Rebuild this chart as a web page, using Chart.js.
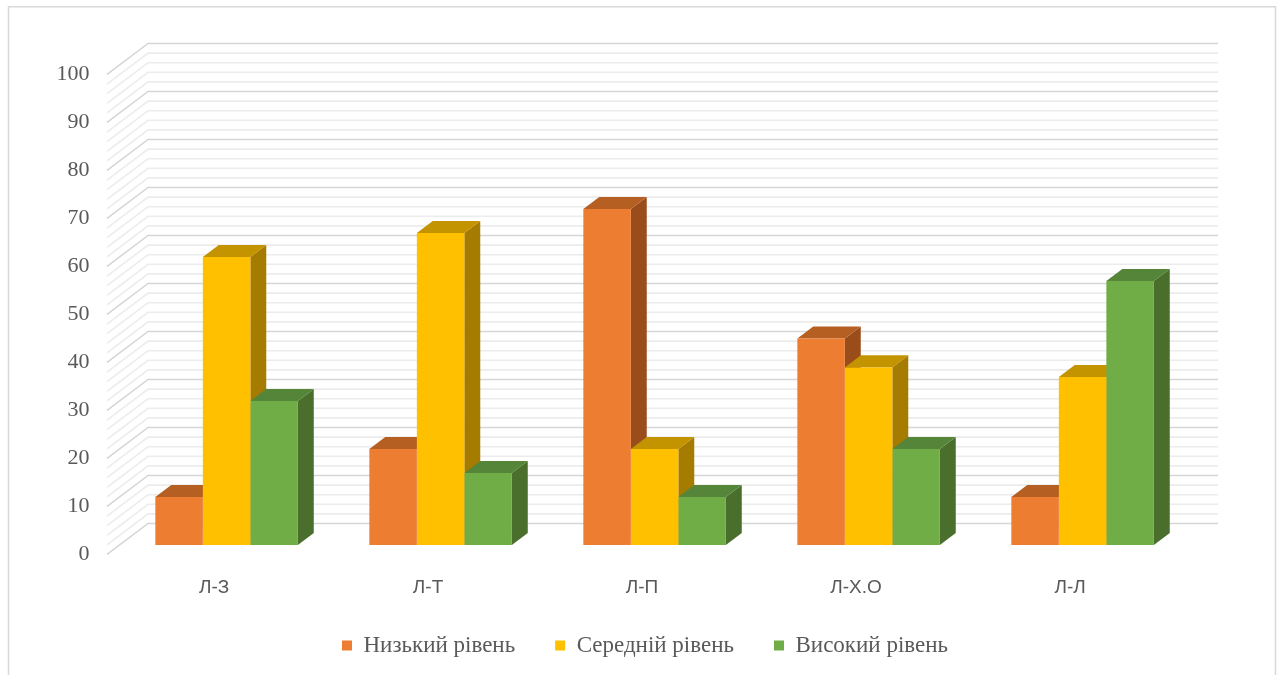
<!DOCTYPE html>
<html lang="uk">
<head>
<meta charset="utf-8">
<title>Рівні за методиками</title>
<script src="https://cdn.jsdelivr.net/npm/chart.js@4.4.1/dist/chart.umd.min.js"></script>
<style>
  html, body { margin: 0; padding: 0; background: #ffffff; }
  #wrap { width: 1280px; height: 675px; }
</style>
</head>
<body>
<div id="wrap"><canvas id="chart" width="1280" height="675"></canvas></div>
<script>
// Categories and series values
const categories = ['Л-З', 'Л-Т', 'Л-П', 'Л-Х.О', 'Л-Л'];
const lowLevel  = [10, 20, 70, 43, 10];
const midLevel  = [60, 65, 20, 37, 35];
const highLevel = [30, 15, 10, 20, 55];
const seriesNames = ['Низький рівень', 'Середній рівень', 'Високий рівень'];
const yTicks = { min: 0, max: 100, step: 10 };

// Face colours: front, top, side
const palette = [
  { front: '#ED7D31', top: '#B65F22', side: '#9A4D1A' },
  { front: '#FFC000', top: '#C49300', side: '#A57B00' },
  { front: '#70AD47', top: '#558538', side: '#4A6E2C' }
];

// Oblique projection of the plot box: full wall depth and where bars sit in it
const WALL_DX = 41, WALL_DY = 31;
const BAR_FRONT = 0.306;   // fraction of depth in front of the bars
const BAR_DEPTH = 0.388;   // bar depth as a fraction of the wall depth

const serifFont = '"Liberation Serif", "Times New Roman", serif';
const sansFont = '"Liberation Sans", Arial, sans-serif';

const frame3d = {
  id: 'frame3d',
  beforeDraw(chart) {
    const ctx = chart.ctx;
    ctx.save();
    ctx.fillStyle = '#ffffff';
    ctx.fillRect(0, 0, chart.width, chart.height);
    ctx.strokeStyle = '#d9d9d9';
    ctx.lineWidth = 1.5;
    ctx.strokeRect(8.5, 6.75, 1267, 720);
    ctx.restore();
  },
  beforeDatasetsDraw(chart) {
    const ctx = chart.ctx;
    const area = chart.chartArea;
    const y = chart.scales.y;
    const fx = -WALL_DX * BAR_FRONT, fy = WALL_DY * BAR_FRONT;               // bar plane -> front plane
    const bx = WALL_DX * (1 - BAR_FRONT), by = -WALL_DY * (1 - BAR_FRONT);   // bar plane -> back wall
    ctx.save();
    ctx.lineCap = 'butt';
    // minor lines first, major lines on top
    for (const pass of ['minor', 'major']) {
      for (let v = yTicks.min; v <= yTicks.max + 0.001; v += 2) {
        const major = Math.abs(v % 10) < 0.001;
        if ((pass === 'major') !== major) continue;
        const py = y.getPixelForValue(v);
        ctx.strokeStyle = major ? '#d6d6d6' : '#ececec';
        ctx.lineWidth = 1.6;
        ctx.beginPath();
        ctx.moveTo(area.left + fx, py + fy);
        ctx.lineTo(area.left + bx, py + by);
        ctx.lineTo(area.right + bx, py + by);
        ctx.stroke();
      }
    }
    // side and top faces of every bar; front faces are drawn by Chart.js afterwards
    const ddx = WALL_DX * BAR_DEPTH, ddy = WALL_DY * BAR_DEPTH;
    const bars = [];
    chart.getSortedVisibleDatasetMetas().forEach((meta) => {
      meta.data.forEach((el) => {
        const p = el.getProps(['x', 'y', 'base', 'width'], true);
        bars.push({ p, col: palette[meta.index] });
      });
    });
    bars.forEach(({ p, col }) => {
      const r = p.x + p.width / 2;
      ctx.fillStyle = col.side;
      ctx.beginPath();
      ctx.moveTo(r, p.y);
      ctx.lineTo(r + ddx, p.y - ddy);
      ctx.lineTo(r + ddx, p.base - ddy);
      ctx.lineTo(r, p.base);
      ctx.closePath();
      ctx.fill();
    });
    bars.forEach(({ p, col }) => {
      const l = p.x - p.width / 2, r = p.x + p.width / 2;
      ctx.fillStyle = col.top;
      ctx.beginPath();
      ctx.moveTo(l, p.y);
      ctx.lineTo(r, p.y);
      ctx.lineTo(r + ddx, p.y - ddy);
      ctx.lineTo(l + ddx, p.y - ddy);
      ctx.closePath();
      ctx.fill();
    });
    ctx.restore();
  }
};

const seriesValues = [lowLevel, midLevel, highLevel];

new Chart(document.getElementById('chart'), {
  type: 'bar',
  data: {
    labels: categories,
    datasets: seriesValues.map((vals, i) => ({
      label: seriesNames[i],
      data: vals,
      backgroundColor: palette[i].front,
      borderWidth: 0,
      categoryPercentage: 0.666,
      barPercentage: 1.0
    }))
  },
  options: {
    responsive: false,
    animation: false,
    devicePixelRatio: 1,
    layout: { padding: { left: 10, right: 0, top: 65, bottom: 8 } },
    plugins: {
      tooltip: { enabled: false },
      legend: {
        position: 'bottom',
        labels: {
          boxWidth: 10,
          boxHeight: 10,
          padding: 40,
          color: '#595959',
          font: { family: serifFont, size: 23 }
        }
      }
    },
    scales: {
      x: {
        grid: { display: false, drawTicks: false },
        border: { display: false },
        ticks: {
          color: '#595959',
          padding: 31,
          labelOffset: -WALL_DX * BAR_FRONT,
          font: { family: sansFont, size: 19 }
        },
        afterFit(scale) { scale.height = 49; }
      },
      y: {
        min: yTicks.min,
        max: yTicks.max,
        grid: { display: false, drawTicks: false },
        border: { display: false },
        ticks: {
          stepSize: yTicks.step,
          color: '#595959',
          padding: 30,
          labelOffset: WALL_DY * BAR_FRONT,
          font: { family: serifFont, size: 22 }
        },
        afterFit(scale) { scale.width = 109.6; }
      },
      yRight: {
        position: 'right',
        display: true,
        grid: { display: false, drawTicks: false },
        border: { display: false },
        ticks: { display: false },
        afterFit(scale) { scale.width = 90.4; }
      }
    }
  },
  plugins: [frame3d]
});
</script>
</body>
</html>
